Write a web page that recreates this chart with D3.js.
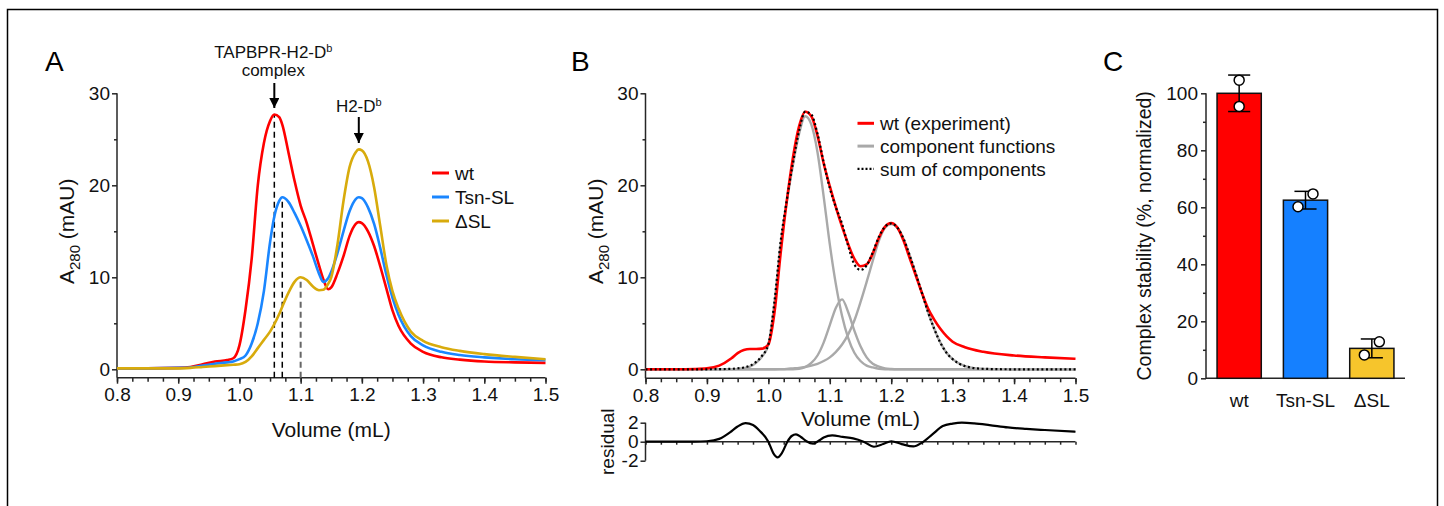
<!DOCTYPE html>
<html>
<head>
<meta charset="utf-8">
<script src="https://cdn.jsdelivr.net/npm/d3@7"></script>
<style>
  body { margin: 0; background: #fff; }
  svg { display: block; font-family: 'Liberation Sans', Arial, sans-serif; }
</style>
</head>
<body>
<div id="chart"></div>
<script>
// ---------- data ----------
// Panel A: elution profiles
const volA = [0.80, 0.85, 0.90, 0.92, 0.94, 0.96, 0.98, 0.99, 1.00, 1.01, 1.02, 1.03, 1.04, 1.05, 1.057, 1.065,
  1.07, 1.08, 1.09, 1.10, 1.11, 1.12, 1.13, 1.137, 1.145, 1.15, 1.16, 1.17, 1.18, 1.19, 1.195, 1.20, 1.21, 1.22,
  1.23, 1.24, 1.25, 1.26, 1.28, 1.30, 1.33, 1.36, 1.40, 1.45, 1.50];
const wtA = [0.1, 0.1, 0.15, 0.25, 0.55, 0.85, 1.0, 1.2, 2.6, 6.5, 12.0, 20.0, 24.6, 27.0, 27.7, 27.4,
  26.6, 23.6, 20.5, 17.8, 15.9, 13.6, 11.3, 9.8, 8.7, 8.9, 10.4, 12.3, 14.5, 15.8, 16.0, 15.9, 15.0, 13.4,
  11.2, 8.8, 6.4, 4.7, 2.8, 1.9, 1.3, 1.05, 0.85, 0.75, 0.7];
const tsnA = [0.1, 0.1, 0.15, 0.2, 0.4, 0.6, 0.75, 0.85, 1.1, 1.5, 2.8, 5.0, 8.5, 13.8, 16.6, 18.3,
  18.7, 18.2, 17.0, 15.6, 14.0, 12.3, 10.4, 9.5, 9.9, 10.6, 12.6, 15.0, 17.2, 18.5, 18.7, 18.6, 17.6, 15.8,
  13.2, 10.3, 7.8, 5.9, 3.6, 2.6, 1.9, 1.55, 1.3, 1.1, 1.0];
const dslA = [0.1, 0.1, 0.1, 0.15, 0.25, 0.35, 0.45, 0.5, 0.55, 0.8, 1.4, 2.3, 3.2, 4.1, 4.9, 6.0,
  6.8, 8.3, 9.5, 10.0, 9.7, 9.0, 8.6, 8.65, 9.3, 10.0, 13.5, 18.3, 22.0, 23.6, 23.9, 23.8, 22.6, 19.8,
  15.6, 11.4, 8.5, 6.6, 4.1, 3.1, 2.4, 2.0, 1.65, 1.35, 1.1];
const seriesA = ['wt', 'Tsn-SL', '\u0394SL'];
const peakVol = [1.057, 1.070, 1.100];
const peakTop = [27.7, 18.7, 10.0];

// Panel B: wt fit
const volB = [0.80, 0.85, 0.88, 0.90, 0.92, 0.94, 0.95, 0.96, 0.97, 0.98, 0.99,
  1.00, 1.01, 1.02, 1.03, 1.04, 1.05, 1.06, 1.07, 1.08, 1.09, 1.10, 1.11, 1.12, 1.13, 1.14, 1.15,
  1.16, 1.17, 1.18, 1.19, 1.20, 1.21, 1.22, 1.23, 1.24, 1.25, 1.26, 1.27, 1.28, 1.29, 1.30,
  1.32, 1.35, 1.40, 1.45, 1.50];
const wtB = [0, 0, 0.03, 0.1, 0.4, 1.2, 1.75, 2.1, 2.2, 2.2, 2.25,
  2.7, 6.2, 12.6, 18.3, 23.0, 26.4, 28.0, 27.5, 25.4, 22.4, 19.9, 17.6, 15.5, 13.6, 12.0, 11.2,
  11.4, 12.6, 14.3, 15.5, 15.9, 15.4, 14.0, 12.1, 10.2, 8.3, 6.6, 5.4, 4.4, 3.6, 3.0,
  2.4, 1.9, 1.5, 1.3, 1.15];
const comp1 = [0, 0, 0, 0, 0, 0.02, 0.05, 0.12, 0.3, 0.7, 1.4,
  2.7, 7.2, 13.6, 18.2, 22.2, 25.6, 27.5, 26.6, 23.6, 18.8, 13.6, 9.2, 5.8, 3.4, 1.8, 0.9,
  0.4, 0.2, 0.05, 0, 0, 0, 0, 0, 0, 0, 0, 0, 0, 0, 0,
  0, 0, 0, 0, 0];
const comp2 = [0, 0, 0, 0, 0, 0, 0, 0, 0, 0, 0,
  0, 0, 0, 0, 0, 0.05, 0.25, 0.7, 1.5, 2.9, 4.8, 6.7, 7.6, 6.2, 4.2, 2.5,
  1.3, 0.6, 0.3, 0.1, 0.03, 0, 0, 0, 0, 0, 0, 0, 0, 0, 0,
  0, 0, 0, 0, 0];
const comp3 = [0, 0, 0, 0, 0, 0, 0, 0, 0, 0, 0,
  0, 0, 0.02, 0.05, 0.1, 0.15, 0.25, 0.4, 0.6, 0.9, 1.3, 1.9, 2.7, 3.8, 5.3, 7.3,
  9.5, 11.8, 14.0, 15.4, 15.8, 15.4, 14.2, 12.4, 10.4, 8.3, 6.2, 4.4, 2.9, 1.8, 1.1,
  0.35, 0.05, 0, 0, 0];
const sumB = [0, 0, 0, 0, 0.02, 0.05, 0.1, 0.2, 0.4, 0.8, 1.5,
  2.7, 7.4, 13.9, 18.4, 22.4, 25.9, 28.0, 27.7, 25.6, 22.5, 19.7, 17.6, 15.8, 13.4, 11.4, 10.8,
  11.3, 12.7, 14.4, 15.5, 15.85, 15.4, 14.2, 12.4, 10.4, 8.3, 6.2, 4.4, 2.9, 1.8, 1.1,
  0.35, 0.05, 0, 0, 0];
const residVol = [0.80, 0.88, 0.90, 0.92, 0.94, 0.95, 0.963, 0.975, 0.985, 1.00, 1.008, 1.015, 1.022, 1.031,
  1.038, 1.045, 1.053, 1.062, 1.073, 1.082, 1.09, 1.104, 1.121, 1.138, 1.155, 1.172, 1.187, 1.20, 1.217,
  1.236, 1.25, 1.267, 1.284, 1.30, 1.315, 1.335, 1.36, 1.39, 1.42, 1.45, 1.50];
const resid = [0, 0, 0.05, 0.3, 1.1, 1.6, 1.95, 1.75, 1.2, 0, -1.2, -1.65, -1.2, 0,
  0.6, 0.77, 0.5, 0.05, -0.2, 0.1, 0.45, 0.67, 0.5, 0.35, 0, -0.53, -0.25, 0.05, -0.25,
  -0.5, -0.1, 0.77, 1.65, 1.9, 2.0, 1.93, 1.75, 1.5, 1.35, 1.23, 1.05];
const legendB = ['wt (experiment)', 'component functions', 'sum of components'];

// Panel C: complex stability
const categories = ['wt', 'Tsn-SL', '\u0394SL'];
const stability = [100, 62.5, 10.5];
const stabilitySD = [6.4, 3.1, 3.3];
const replicates = [[104.6, 95.4], [60.2, 64.7], [8.2, 12.8]];

// ticks
const volTicks = [0.8, 0.9, 1.0, 1.1, 1.2, 1.3, 1.4, 1.5];
const absTicks = [0, 10, 20, 30];
const absMinor = [5, 15, 25];
const residTicks = [-2, 0, 2];
const stabTicks = [0, 20, 40, 60, 80, 100];
const stabMinor = [10, 30, 50, 70, 90];

// ---------- drawing ----------
const width = 1444, height = 506;
const red = '#ff0000', blue = '#1a86ff', gold = '#d8ab0c', gray = '#a9a9a9';
const axisColor = '#262626';
const tickFont = 19, titleFont = 21;

const svg = d3.select('#chart').append('svg')
  .attr('width', width).attr('height', height);
svg.append('rect').attr('width', width).attr('height', height).attr('fill', '#fff');

// frame
svg.append('path')
  .attr('d', `M7.5,${height} V9.5 H1437.5 V${height}`)
  .attr('fill', 'none').attr('stroke', '#000').attr('stroke-width', 1.5);

svg.append('defs').append('marker')
  .attr('id', 'arrow').attr('viewBox', '0 0 10 10')
  .attr('refX', 10).attr('refY', 5)
  .attr('markerWidth', 10).attr('markerHeight', 10)
  .attr('markerUnits', 'userSpaceOnUse')
  .attr('orient', 'auto')
  .append('path').attr('d', 'M0,0 L10,5 L0,10 Z').attr('fill', '#000');

function styleAxis(g) {
  g.select('.domain').remove();
  g.selectAll('.tick line').attr('stroke', axisColor).attr('stroke-width', 1.5);
  g.selectAll('.tick text').attr('fill', '#111').style('font-size', tickFont + 'px')
    .style('font-family', "'Liberation Sans', Arial, sans-serif");
}

function axisLine(x1, y1, x2, y2) {
  svg.append('line').attr('x1', x1).attr('y1', y1).attr('x2', x2).attr('y2', y2)
    .attr('stroke', axisColor).attr('stroke-width', 1.5);
}

function volumeAxis(x, yPos) {
  const minor = d3.range(0, 29).map(i => 0.8 + i * 0.025);
  svg.append('g').attr('transform', `translate(0,${yPos})`)
    .call(d3.axisBottom(x).tickValues(minor).tickSize(4).tickFormat(''))
    .call(styleAxis);
  svg.append('g').attr('transform', `translate(0,${yPos})`)
    .call(d3.axisBottom(x).tickValues(volTicks).tickSize(6).tickPadding(4).tickFormat(d3.format('.1f')))
    .call(styleAxis);
  axisLine(x.range()[0], yPos, x.range()[1], yPos);
}

function absAxis(x0, y, yBottom) {
  svg.append('g').attr('transform', `translate(${x0},0)`)
    .call(d3.axisLeft(y).tickValues(absMinor).tickSize(3).tickFormat(''))
    .call(styleAxis);
  svg.append('g').attr('transform', `translate(${x0},0)`)
    .call(d3.axisLeft(y).tickValues(absTicks).tickSize(5).tickPadding(2))
    .call(styleAxis);
  axisLine(x0, y(30), x0, yBottom);
}

function absTitle(cx, cy) {
  const t = svg.append('text')
    .attr('transform', `translate(${cx},${cy}) rotate(-90)`)
    .attr('text-anchor', 'middle')
    .style('font-size', titleFont + 'px').attr('fill', '#111');
  t.append('tspan').text('A');
  t.append('tspan').attr('dy', 6).style('font-size', '15px').text('280');
  t.append('tspan').attr('dy', -6).text(' (mAU)');
}

function panelLetter(x, label) {
  svg.append('text').attr('x', x).attr('y', 71)
    .style('font-size', '28px').attr('fill', '#000').text(label);
}

// ===== Panel A =====
const xA = d3.scaleLinear().domain([0.8, 1.5]).range([117, 545.5]);
const yA = d3.scaleLinear().domain([0, 30]).range([369.3, 93.3]);
const axisYA = 377.7;

panelLetter(45, 'A');
volumeAxis(xA, axisYA);
absAxis(117, yA, axisYA);
absTitle(74, yA(15));
svg.append('text').attr('x', (117 + 545.5) / 2).attr('y', 437)
  .attr('text-anchor', 'middle').style('font-size', titleFont + 'px').attr('fill', '#111')
  .text('Volume (mL)');

// peak markers
svg.append('g').selectAll('line')
  .data(peakVol)
  .join('line')
  .attr('x1', d => xA(d)).attr('x2', d => xA(d))
  .attr('y1', axisYA)
  .attr('y2', (d, i) => yA(peakTop[i]))
  .attr('stroke', (d, i) => i === 2 ? '#666' : '#000')
  .attr('stroke-width', (d, i) => i === 2 ? 2 : 1.5)
  .attr('stroke-dasharray', '6,4');

const lineA = d3.line()
  .x(d => xA(d[0])).y(d => yA(d[1]))
  .curve(d3.curveMonotoneX);

const colorsA = [red, blue, gold];
[wtA, tsnA, dslA].forEach((vals, i) => {
  svg.append('path')
    .datum(volA.map((v, j) => [v, vals[j]]))
    .attr('d', lineA)
    .attr('fill', 'none')
    .attr('stroke', colorsA[i])
    .attr('stroke-width', 2.6);
});

// annotations
const ann1 = svg.append('text').attr('x', xA(peakVol[0]) - 1).attr('y', 58)
  .attr('text-anchor', 'middle').style('font-size', '17px').attr('fill', '#111');
ann1.append('tspan').text('TAPBPR-H2-D');
ann1.append('tspan').attr('dy', -6).style('font-size', '11px').text('b');
svg.append('text').attr('x', xA(peakVol[0]) - 1).attr('y', 76)
  .attr('text-anchor', 'middle').style('font-size', '17px').attr('fill', '#111')
  .text('complex');
svg.append('line').attr('x1', xA(peakVol[0])).attr('x2', xA(peakVol[0]))
  .attr('y1', 83).attr('y2', 108)
  .attr('stroke', '#000').attr('stroke-width', 2).attr('marker-end', 'url(#arrow)');

const ann2 = svg.append('text').attr('x', xA(1.195)).attr('y', 112)
  .attr('text-anchor', 'middle').style('font-size', '17px').attr('fill', '#111');
ann2.append('tspan').text('H2-D');
ann2.append('tspan').attr('dy', -6).style('font-size', '11px').text('b');
svg.append('line').attr('x1', xA(1.195)).attr('x2', xA(1.195))
  .attr('y1', 117).attr('y2', 143)
  .attr('stroke', '#000').attr('stroke-width', 2).attr('marker-end', 'url(#arrow)');

// legend A
const legA = svg.append('g').attr('transform', 'translate(432,173)');
seriesA.forEach((s, i) => {
  legA.append('line').attr('x1', 0).attr('x2', 17).attr('y1', i * 24).attr('y2', i * 24)
    .attr('stroke', colorsA[i]).attr('stroke-width', 3);
  legA.append('text').attr('x', 23).attr('y', i * 24 + 7)
    .style('font-size', '19px').attr('fill', '#111').text(s);
});

// ===== Panel B =====
const xB = d3.scaleLinear().domain([0.8, 1.5]).range([645.5, 1075.5]);
const yB = d3.scaleLinear().domain([0, 30]).range([369.3, 93.3]);
const axisYB = 378.3;

panelLetter(571, 'B');
volumeAxis(xB, axisYB);
absAxis(645.5, yB, axisYB);
absTitle(603, yB(15));
svg.append('text').attr('x', (645.5 + 1075.5) / 2).attr('y', 426)
  .attr('text-anchor', 'middle').style('font-size', titleFont + 'px').attr('fill', '#111')
  .text('Volume (mL)');

const lineB = d3.line()
  .x(d => xB(d[0])).y(d => yB(d[1]))
  .curve(d3.curveMonotoneX);

[comp1, comp2, comp3].forEach(vals => {
  svg.append('path')
    .datum(volB.map((v, j) => [v, vals[j]]))
    .attr('d', lineB)
    .attr('fill', 'none').attr('stroke', gray).attr('stroke-width', 2.4);
});
svg.append('path')
  .datum(volB.map((v, j) => [v, wtB[j]]))
  .attr('d', lineB)
  .attr('fill', 'none').attr('stroke', red).attr('stroke-width', 2.6);
svg.append('path')
  .datum(volB.map((v, j) => [v, sumB[j]]))
  .attr('d', lineB)
  .attr('fill', 'none').attr('stroke', '#000').attr('stroke-width', 2.2)
  .attr('stroke-dasharray', '2,2.6');

// legend B
const legB = svg.append('g').attr('transform', 'translate(857.5,123.3)');
const legStyles = [
  { c: red, d: null, w: 3 },
  { c: gray, d: null, w: 3 },
  { c: '#000', d: '2,2', w: 2.4 }
];
legendB.forEach((s, i) => {
  legB.append('line').attr('x1', 0).attr('x2', 16.5).attr('y1', i * 22.8).attr('y2', i * 22.8)
    .attr('stroke', legStyles[i].c).attr('stroke-width', legStyles[i].w)
    .attr('stroke-dasharray', legStyles[i].d);
  legB.append('text').attr('x', 22.5).attr('y', i * 22.8 + 7)
    .style('font-size', '19px').attr('fill', '#111').text(s);
});

// residual sub-plot
const yR = d3.scaleLinear().domain([-2, 2]).range([460.7, 422.7]);
svg.append('g').attr('transform', `translate(645.5,0)`)
  .call(d3.axisLeft(yR).tickValues(residTicks).tickSize(5).tickPadding(2).tickFormat(d => String(d)))
  .call(styleAxis);
axisLine(645.5, yR(2), 645.5, yR(-2));
svg.append('g').attr('transform', `translate(0,${yR(0)})`)
  .call(d3.axisBottom(xB).tickValues(d3.range(0, 29).map(i => 0.8 + i * 0.025)).tickSize(3).tickFormat(''))
  .call(styleAxis);
axisLine(645.5, yR(0), 1075.5, yR(0));
svg.append('path')
  .datum(residVol.map((v, j) => [v, resid[j]]))
  .attr('d', d3.line().x(d => xB(d[0])).y(d => yR(d[1])).curve(d3.curveMonotoneX))
  .attr('fill', 'none').attr('stroke', '#000').attr('stroke-width', 2.2);
svg.append('text')
  .attr('transform', `translate(614,${yR(0)}) rotate(-90)`)
  .attr('text-anchor', 'middle').style('font-size', '19px').attr('fill', '#111')
  .text('residual');

// ===== Panel C =====
const yC = d3.scaleLinear().domain([0, 100]).range([378.3, 93.3]);
const xC = d3.scaleBand().domain(categories).range([1206, 1405])
  .paddingInner(1 / 3).paddingOuter(1 / 6);
const colorsC = [red, '#1580ff', '#f6c52c'];

panelLetter(1103, 'C');
svg.append('g').attr('transform', 'translate(1206,0)')
  .call(d3.axisLeft(yC).tickValues(stabMinor).tickSize(3).tickFormat(''))
  .call(styleAxis);
svg.append('g').attr('transform', 'translate(1206,0)')
  .call(d3.axisLeft(yC).tickValues(stabTicks).tickSize(5).tickPadding(3))
  .call(styleAxis);
axisLine(1206, yC(100), 1206, yC(0));
axisLine(1206, yC(0), 1405, yC(0));

svg.append('g').selectAll('rect')
  .data(categories)
  .join('rect')
  .attr('x', d => xC(d))
  .attr('width', xC.bandwidth())
  .attr('y', (d, i) => yC(stability[i]))
  .attr('height', (d, i) => yC(0) - yC(stability[i]))
  .attr('fill', (d, i) => colorsC[i])
  .attr('stroke', '#111').attr('stroke-width', 1.5);

// error bars
categories.forEach((c, i) => {
  const cx = xC(c) + xC.bandwidth() / 2;
  const lo = yC(stability[i] - stabilitySD[i]);
  const hi = yC(stability[i] + stabilitySD[i]);
  const cap = xC.bandwidth() / 4;
  const g = svg.append('g').attr('stroke', '#000').attr('stroke-width', 1.5);
  g.append('line').attr('x1', cx).attr('x2', cx).attr('y1', lo).attr('y2', hi);
  g.append('line').attr('x1', cx - cap).attr('x2', cx + cap).attr('y1', lo).attr('y2', lo);
  g.append('line').attr('x1', cx - cap).attr('x2', cx + cap).attr('y1', hi).attr('y2', hi);

  // replicate points, spread sideways when they would overlap
  const pts = replicates[i].slice().sort((a, b) => a - b);
  const close = Math.abs(yC(pts[0]) - yC(pts[1])) < 15;
  pts.forEach((v, k) => {
    svg.append('circle')
      .attr('cx', close ? cx + (k === 0 ? -7.5 : 7.5) : cx)
      .attr('cy', yC(v))
      .attr('r', 5)
      .attr('fill', '#fff').attr('stroke', '#000').attr('stroke-width', 1.5);
  });
});

svg.append('g').selectAll('text.cat')
  .data(categories)
  .join('text')
  .attr('class', 'cat')
  .attr('x', d => xC(d) + xC.bandwidth() / 2)
  .attr('y', 407)
  .attr('text-anchor', 'middle')
  .style('font-size', '19px').attr('fill', '#111')
  .text(d => d);

svg.append('text')
  .attr('transform', `translate(1151,${yC(50)}) rotate(-90)`)
  .attr('text-anchor', 'middle').style('font-size', '19.5px').attr('fill', '#111')
  .text('Complex stability (%, normalized)');
</script>
</body>
</html>
